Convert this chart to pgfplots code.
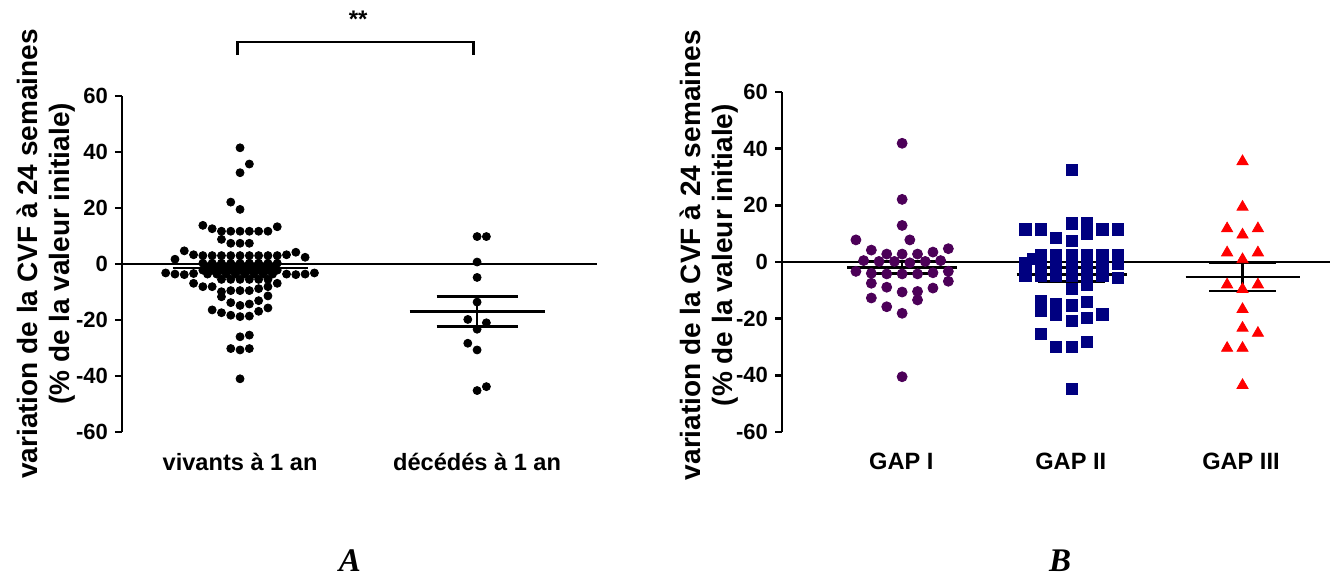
\documentclass[border=0pt]{standalone}
\usepackage{fontspec}
\setmainfont{Liberation Sans}
\newfontfamily\timesfont{Liberation Serif}
\usepackage{pgfplots}
\usepackage{pgfplotstable}
\pgfplotsset{compat=1.18}
\definecolor{gapone}{RGB}{76,0,88}
\definecolor{gaptwo}{RGB}{0,0,128}
\definecolor{gapthree}{RGB}{255,0,0}

% panel A, survivors: s = horizontal slot (beeswarm), v = value (%)
\pgfplotstableread{
s v
0 41.5
1 35.7
0 32.6
-1 22.1
0 19.5
-4 13.8
-3 12.6
-2 11.7
-1 11.7
0 11.7
1 11.7
2 11.7
3 11.7
4 13.3
-2 8.8
-1 7.4
0 7.4
1 7.4
-6 4.7
-5 3.3
-4 3.0
-3 3.0
-2 3.0
-1 3.0
0 3.0
1 3.0
2 3.0
3 3.0
4 3.0
5 3.3
6 4.2
7 2.4
-7 1.7
-4 0.3
-3 0.3
-2 0.3
-1 0.3
0 0.3
1 0.3
2 0.3
3 0.3
4 0.3
-3.5 -1.0
-2.5 -1.0
-1.5 -1.0
-0.5 -1.0
0.5 -1.0
1.5 -1.0
2.5 -1.0
3.5 -1.0
-4 -2.2
-3 -2.2
-2 -2.2
-1 -2.2
0 -2.2
1 -2.2
2 -2.2
3 -2.2
4 -2.2
-8 -3.2
-7 -3.6
-6 -3.8
-5 -3.4
5 -3.6
6 -3.8
7 -3.6
8 -3.2
-3.5 -3.6
-2.5 -3.6
-1.5 -3.6
-0.5 -3.6
0.5 -3.6
1.5 -3.6
2.5 -3.6
3.5 -3.6
-5 -6.9
-4 -8.1
-3 -8.1
-2 -5.5
-1 -5.5
0 -5.5
1 -5.5
2 -5.5
3 -5.5
4 -6.9
-2 -9.9
-2 -11.7
-1 -9.5
0 -9.5
1 -9.5
2 -8.8
3 -8.1
3 -11.4
-1 -13.8
0 -14.8
1 -14.3
2 -13.1
-3 -16.4
-2 -17.4
-1 -18.3
0 -18.8
1 -18.6
2 -16.9
3 -15.7
0 -26.0
1 -25.4
-1 -30.2
0 -30.7
1 -30.2
0 -41.0
}\vivants

% panel A, deceased
\pgfplotstableread{
s v
0 9.8
1 9.8
0 0.7
0 -4.8
0 -13.6
-1 -19.8
1 -21.0
0 -23.3
-1 -28.3
0 -30.7
0 -45.2
1 -43.8
}\decedes

% panel B, GAP I
\pgfplotstableread{
s v
0 41.9
0 22.1
0 12.9
-3 7.8
0.5 7.8
-2 4.2
3 4.7
-1 2.8
0 2.8
1 2.8
2 3.5
-2.5 0.5
-1.5 0.2
-0.5 0.2
0.5 -0.3
1.5 0.2
2.5 0.5
-3 -3.3
-2 -4.0
-1 -4.2
0 -4.2
1 -4.2
2 -3.8
3 -3.3
-2 -7.5
-1 -8.9
0 -10.6
1 -10.4
2 -9.2
3 -6.8
-2 -12.7
1 -13.4
-1 -15.8
0 -18.1
0 -40.5
}\gapI

% panel B, GAP II
\pgfplotstableread{
s v
0 32.5
-3 11.5
-2 11.5
0 13.6
1 13.9
1 9.8
2 11.5
3 11.5
-1 8.6
0 7.4
-2 2.6
-1 2.6
0 2.6
1 2.6
2 2.6
3 2.6
-3 -0.5
-2.5 1.2
-2 -0.5
-1 -0.5
0 -0.5
1 -0.5
2 -0.5
3 -0.5
-3 -4.9
-2 -4.9
-1 -4.9
0 -4.9
1 -4.9
2 -4.9
3 -5.5
0 -9.4
1 -8.2
-2 -13.8
-2 -17.3
-1 -14.9
-1 -18.5
0 -15.3
1 -14.1
0 -20.8
1 -19.6
2 -18.5
-2 -25.5
-1 -29.9
0 -29.9
1 -28.1
0 -44.9
}\gapII

% panel B, GAP III
\pgfplotstableread{
s v
0 35.5
0 19.4
-1 11.8
1 11.8
0 9.6
-1 3.3
1 3.3
0 0.9
-1 -8.0
1 -8.0
0 -9.6
0 -16.7
0 -23.3
1 -25.1
-1 -30.4
0 -30.4
0 -43.5
}\gapIII

\pgfplotsset{
  myaxis/.style={
    scale only axis, clip=false,
    ymin=-60, ymax=60,
    ytick={-60,-40,-20,0,20,40,60},
    yticklabels={-60,-40,-20,0,20,40,60},
    axis y line*=left, axis x line*=bottom,
    x axis line style={draw=none}, xtick style={draw=none},
    y axis line style={line width=1.3pt},
    ytick style={line width=1.3pt, black},
    tick align=outside, major tick length=3.5pt,
    yticklabel style={font=\fontsize{11}{13}\selectfont\bfseries},
    xticklabel style={font=\fontsize{11.8}{14}\selectfont\bfseries, yshift=-3.5pt},
    ylabel style={font=\fontsize{14}{16}\selectfont\bfseries, align=center, anchor=center},
  },
  meanline/.style={black, line width=1.3pt, forget plot},
}

\begin{document}
\begin{tikzpicture}
\path[use as bounding box] (0,0) rectangle (667pt,-288pt);

% ---------------- Panel A ----------------
\begin{axis}[myaxis,
  at={(61pt,-216pt)}, anchor=south west,
  width=237.5pt, height=168pt,
  xmin=-12.7, xmax=38.4,
  xtick={0,25.5}, xticklabels={vivants à 1 an, décédés à 1 an},
  ylabel={variation de la CVF à 24 semaines\\(\% de la valeur initiale)},
  ylabel style={at={(axis description cs:-0.16,0.53)}},
]
\addplot[black, line width=1.3pt, forget plot] coordinates {(-12.7,0) (38.4,0)};
\addplot[only marks, mark=*, mark size=2pt, black] table[x expr=\thisrow{s}, y=v] {\vivants};
\addplot[only marks, mark=*, mark size=2pt, black] table[x expr=\thisrow{s}+25.5, y=v] {\decedes};
% mean +/- SEM
\addplot[meanline] coordinates {(-7.26,-1.4) (7.26,-1.4)};
\addplot[meanline] coordinates {(-4.35,-0.2) (4.35,-0.2)};
\addplot[meanline] coordinates {(-4.35,-2.6) (4.35,-2.6)};
\addplot[meanline] coordinates {(0,-0.2) (0,-2.6)};
\addplot[meanline] coordinates {(18.24,-16.9) (32.76,-16.9)};
\addplot[meanline] coordinates {(21.15,-11.7) (29.85,-11.7)};
\addplot[meanline] coordinates {(21.15,-22.4) (29.85,-22.4)};
\addplot[meanline] coordinates {(25.5,-11.7) (25.5,-22.4)};
% significance bracket
\draw[line width=1.3pt] (axis cs:-0.3,74.6) -- (axis cs:-0.3,79.3) -- (axis cs:25.1,79.3) -- (axis cs:25.1,74.6);
\node[font=\fontsize{12}{14}\selectfont\bfseries] at (axis cs:12.7,87.5) {**};
\end{axis}

% ---------------- Panel B ----------------
\begin{axis}[myaxis,
  at={(391pt,-216pt)}, anchor=south west,
  width=274pt, height=170pt,
  xmin=0, xmax=35.58,
  xtick={7.75,18.75,29.8}, xticklabels={GAP I, GAP II, GAP III},
  ylabel={variation de la CVF à 24 semaines\\(\% de la valeur initiale)},
  ylabel style={at={(axis description cs:-0.133,0.52)}},
]
\addplot[black, line width=1.3pt, forget plot] coordinates {(0,0) (35.58,0)};
\addplot[only marks, mark=*, mark size=2.5pt, color=gapone] table[x expr=\thisrow{s}+7.8, y=v] {\gapI};
\addplot[only marks, mark=square*, mark size=2.8pt, color=gaptwo] table[x expr=\thisrow{s}+18.8, y=v] {\gapII};
\addplot[only marks, mark=triangle*, mark size=3.2pt, color=gapthree] table[x expr=\thisrow{s}+29.9, y=v] {\gapIII};
% mean +/- SEM
\addplot[meanline] coordinates {(4.23,-1.9) (11.37,-1.9)};
\addplot[meanline] coordinates {(5.63,0.3) (9.97,0.3)};
\addplot[meanline] coordinates {(5.63,-4.1) (9.97,-4.1)};
\addplot[meanline] coordinates {(7.8,0.3) (7.8,-4.1)};
\addplot[meanline] coordinates {(15.23,-4.4) (22.37,-4.4)};
\addplot[meanline] coordinates {(16.63,-2.0) (20.97,-2.0)};
\addplot[meanline] coordinates {(16.63,-6.8) (20.97,-6.8)};
\addplot[meanline] coordinates {(18.8,-2.0) (18.8,-6.8)};
\addplot[meanline] coordinates {(26.2,-5.3) (33.6,-5.3)};
\addplot[meanline] coordinates {(27.73,-0.4) (32.07,-0.4)};
\addplot[meanline] coordinates {(27.73,-10.2) (32.07,-10.2)};
\addplot[meanline] coordinates {(29.9,-0.4) (29.9,-10.2)};
\end{axis}

\node[font=\timesfont\bfseries\itshape\fontsize{16.5}{18}\selectfont] at (175pt,-280.5pt) {A};
\node[font=\timesfont\bfseries\itshape\fontsize{16.5}{18}\selectfont] at (530pt,-280.5pt) {B};
\end{tikzpicture}
\end{document}
